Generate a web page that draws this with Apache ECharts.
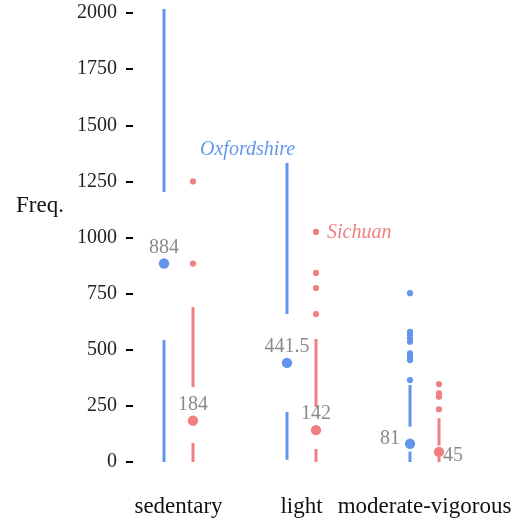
<!DOCTYPE html>
<html>
<head>
<meta charset="utf-8">
<script src="https://cdn.jsdelivr.net/npm/echarts@6/dist/echarts.min.js"></script>
<style>html,body{margin:0;padding:0;background:#fff}#c{width:518px;height:521px}</style>
</head>
<body>
<div id="c"></div>
<script>
const categories = ['sedentary', 'light', 'moderate-vigorous'];
const yTicks = [0, 250, 500, 750, 1000, 1250, 1500, 1750, 2000];

// Oxfordshire: whisker low, Q1, median, Q3, whisker high
const oxLow = [0, 10, 0];
const oxQ1 = [543, 223, 46];
const oxMedian = [884, 441.5, 81];
const oxQ3 = [1203, 659, 157];
const oxHigh = [2018, 1332, 343];
const oxOutliers = [[2, 365], [2, 454], [2, 469], [2, 484], [2, 536], [2, 551], [2, 566], [2, 580], [2, 752]];

// Sichuan
const scLow = [0, 0, 0];
const scQ1 = [85, 58, 24];
const scMedian = [184, 142, 45];
const scQ3 = [334, 245, 73];
const scHigh = [690, 548, 195];
const scOutliers = [[0, 884], [0, 1250], [1, 659], [1, 775], [1, 842], [1, 1025], [2, 235], [2, 291], [2, 306], [2, 347]];

const BLUE = '#6495ED', RED = '#F08080';
const FONT = '"Liberation Serif", "DejaVu Serif", serif';

function boxData(lo, q1, med, q3, hi) {
  return categories.map((c, i) => [i, lo[i], q1[i], med[i], q3[i], hi[i]]);
}

// label placement per category for each group (style only)
const oxLabelPos = ['top', 'top', 'left'];
const scLabelPos = ['top', 'top', 'right'];

function makeBox(color, off, labelPos) {
  return function (params, api) {
    const i = api.value(0);
    const x = api.coord([i, 0])[0] + off;
    const Y = v => api.coord([i, v])[1];
    const yLo = Y(api.value(1)), yQ1 = Y(api.value(2)), yMed = Y(api.value(3)), yQ3 = Y(api.value(4)), yHi = Y(api.value(5));
    const pos = labelPos[i];
    let tx = x, ty = yMed - 16, ta = 'center';
    if (pos === 'left') { tx = x - 10; ty = yMed - 5; ta = 'right'; }
    if (pos === 'right') { tx = x + 4; ty = yMed + 4; ta = 'left'; }
    return {
      type: 'group',
      children: [
        { type: 'line', shape: { x1: x, y1: yLo, x2: x, y2: yQ1 }, style: { stroke: color, lineWidth: 3 } },
        { type: 'line', shape: { x1: x, y1: yQ3, x2: x, y2: yHi }, style: { stroke: color, lineWidth: 3 } },
        { type: 'circle', shape: { cx: x, cy: yMed, r: 5.2 }, style: { fill: color } },
        { type: 'text', style: { text: String(api.value(3)), x: tx, y: ty, textAlign: ta, textVerticalAlign: 'middle', textBaseline: 'middle', fill: '#8a8a8a', font: '20px ' + FONT } }
      ]
    };
  };
}

function makeOut(color, off) {
  return function (params, api) {
    const p = api.coord([api.value(0), api.value(1)]);
    return { type: 'circle', shape: { cx: p[0] + off, cy: p[1], r: 3.1 }, style: { fill: color } };
  };
}

const chart = echarts.init(document.getElementById('c'), null, { renderer: 'canvas' });
chart.setOption({
  animation: false,
  backgroundColor: '#fff',
  grid: { left: 117, right: 32, top: 13, bottom: 59 },
  xAxis: {
    type: 'category', data: categories, boundaryGap: true,
    axisLine: { show: false }, axisTick: { show: false }, splitLine: { show: false },
    axisLabel: { color: '#111', fontFamily: FONT, fontSize: 23, margin: 33, interval: 0 }
  },
  yAxis: {
    type: 'value', min: 0, max: 2000, interval: 250, offset: -16,
    axisLine: { show: false }, splitLine: { show: false },
    axisTick: { show: true, length: 7, lineStyle: { color: '#000', width: 2 } },
    axisLabel: { color: '#222', fontFamily: FONT, fontSize: 20, margin: 16, formatter: v => String(v) }
  },
  graphic: [
    { type: 'text', left: 16, top: 194, style: { text: 'Freq.', fill: '#111', font: '23px ' + FONT } },
    { type: 'text', left: 200, top: 140, style: { text: 'Oxfordshire', fill: BLUE, font: 'italic 20px ' + FONT } },
    { type: 'text', left: 327, top: 223, style: { text: 'Sichuan', fill: RED, font: 'italic 20px ' + FONT } }
  ],
  series: [
    { type: 'custom', name: 'Oxfordshire', renderItem: makeBox(BLUE, -14.5, oxLabelPos), data: boxData(oxLow, oxQ1, oxMedian, oxQ3, oxHigh), encode: { x: 0, y: [1, 2, 3, 4, 5] }, clip: false },
    { type: 'custom', name: 'Sichuan', renderItem: makeBox(RED, 14.5, scLabelPos), data: boxData(scLow, scQ1, scMedian, scQ3, scHigh), encode: { x: 0, y: [1, 2, 3, 4, 5] }, clip: false },
    { type: 'custom', name: 'Oxfordshire outliers', renderItem: makeOut(BLUE, -14.5), data: oxOutliers, encode: { x: 0, y: 1 } },
    { type: 'custom', name: 'Sichuan outliers', renderItem: makeOut(RED, 14.5), data: scOutliers, encode: { x: 0, y: 1 } }
  ]
});
</script>
</body>
</html>
